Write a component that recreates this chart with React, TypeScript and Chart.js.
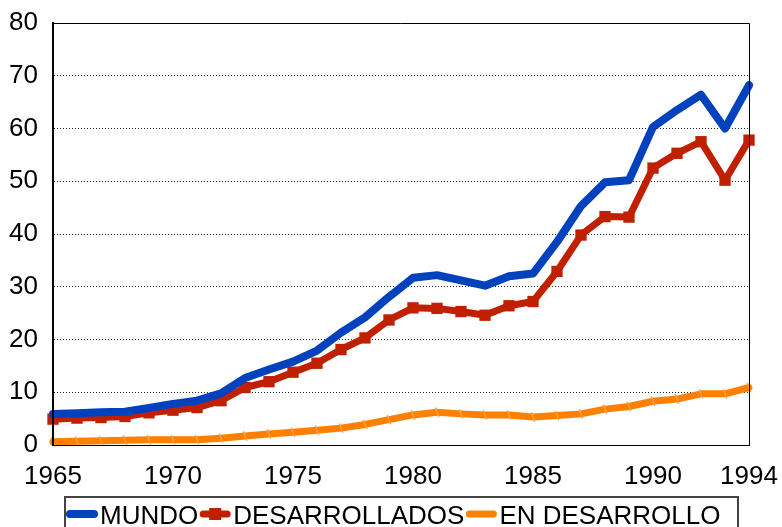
import React, { useEffect, useRef } from "react";
import { Chart, registerables } from "chart.js";

Chart.register(...registerables);

const years = [
  "1965", "1966", "1967", "1968", "1969", "1970", "1971", "1972", "1973", "1974",
  "1975", "1976", "1977", "1978", "1979", "1980", "1981", "1982", "1983", "1984",
  "1985", "1986", "1987", "1988", "1989", "1990", "1991", "1992", "1993", "1994",
];
const shownYears = ["1965", "1970", "1975", "1980", "1985", "1990", "1994"];

const mundo = [
  5.9, 6.0, 6.2, 6.3, 7.0, 7.8, 8.4, 9.8, 12.7, 14.3,
  15.8, 17.9, 21.3, 24.2, 28.1, 31.7, 32.2, 31.2, 30.2, 32.0,
  32.5, 38.5, 45.3, 49.8, 50.2, 60.3, 63.5, 66.4, 60.0, 68.2,
];
const desarrollados = [
  4.9, 5.1, 5.2, 5.4, 6.1, 6.6, 7.1, 8.4, 10.9, 12.0,
  13.8, 15.5, 18.1, 20.3, 23.7, 26.0, 25.9, 25.3, 24.6, 26.4,
  27.2, 32.9, 39.8, 43.3, 43.2, 52.5, 55.3, 57.5, 50.2, 57.8,
];
const enDesarrollo = [
  0.6, 0.7, 0.8, 0.9, 1.0, 1.0, 1.0, 1.3, 1.7, 2.1,
  2.4, 2.8, 3.2, 3.9, 4.8, 5.7, 6.2, 5.9, 5.7, 5.7,
  5.3, 5.6, 5.9, 6.8, 7.3, 8.3, 8.7, 9.7, 9.7, 10.9,
];
const seriesNames = ["MUNDO", "DESARROLLADOS", "EN DESARROLLO"];

const FONT = "'Liberation Sans', Arial, sans-serif";

const frameAndLegend = {
  id: "frameAndLegend",
  afterDatasetsDraw(chart: any) {
    const { ctx, chartArea } = chart;
    ctx.save();
    ctx.strokeStyle = "#000";
    ctx.lineWidth = 1;
    ctx.setLineDash([]);
    ctx.beginPath();
    ctx.moveTo(chartArea.left, chartArea.top + 0.5);
    ctx.lineTo(chartArea.right + 0.5, chartArea.top + 0.5);
    ctx.lineTo(chartArea.right + 0.5, chartArea.bottom + 0.5);
    ctx.lineTo(chartArea.left, chartArea.bottom + 0.5);
    ctx.stroke();
    ctx.lineWidth = 2;
    ctx.beginPath();
    ctx.moveTo(chartArea.left, chartArea.top);
    ctx.lineTo(chartArea.left, chartArea.bottom + 1);
    ctx.stroke();
    ctx.restore();
  },
  afterDraw(chart: any) {
    const { ctx } = chart;
    ctx.save();
    ctx.strokeStyle = "#444";
    ctx.lineWidth = 2;
    ctx.strokeRect(65, 497, 673, 60);
    ctx.font = `26px ${FONT}`;
    ctx.textBaseline = "alphabetic";
    ctx.fillStyle = "#000";
    let x = 67;
    const yLine = 514;
    chart.data.datasets.forEach((ds: any) => {
      ctx.strokeStyle = ds.borderColor;
      ctx.lineWidth = ds.borderWidth;
      ctx.lineCap = "round";
      ctx.beginPath();
      ctx.moveTo(x + 3, yLine);
      ctx.lineTo(x + 27, yLine);
      ctx.stroke();
      if (ds.pointStyle === "rect") {
        ctx.fillStyle = ds.pointBackgroundColor;
        ctx.fillRect(x + 15 - 6, yLine - 6, 12, 12);
      }
      ctx.fillStyle = "#000";
      const tx = x + 33;
      ctx.fillText(ds.label, tx, 524);
      x = tx + ctx.measureText(ds.label).width + 2;
    });
    ctx.restore();
  },
};

export default function App() {
  const ref = useRef<HTMLCanvasElement>(null);
  useEffect(() => {
    document.body.style.margin = "0";
    const canvas = ref.current!;
    const chart = new Chart(canvas, {
      type: "line",
      data: {
        labels: years,
        datasets: [
          {
            label: seriesNames[0],
            data: mundo,
            borderColor: "#0042BE",
            backgroundColor: "#0042BE",
            borderWidth: 8,
            pointRadius: 0,
            pointHoverRadius: 0,
            borderJoinStyle: "round",
            borderCapStyle: "round",
            tension: 0,
            clip: false,
          },
          {
            label: seriesNames[1],
            data: desarrollados,
            borderColor: "#C02000",
            backgroundColor: "#C02000",
            pointBackgroundColor: "#C02000",
            pointBorderColor: "#C02000",
            borderWidth: 7,
            pointStyle: "rect",
            pointRadius: 8,
            pointBorderWidth: 0,
            borderJoinStyle: "round",
            borderCapStyle: "round",
            tension: 0,
            clip: false,
          },
          {
            label: seriesNames[2],
            data: enDesarrollo,
            borderColor: "#FF8000",
            backgroundColor: "#FF8000",
            pointBackgroundColor: "#FFA040",
            pointBorderColor: "#FFA040",
            borderWidth: 7,
            pointStyle: "line",
            pointRotation: 70,
            pointRadius: 5,
            pointBorderWidth: 1.5,
            borderJoinStyle: "round",
            borderCapStyle: "round",
            tension: 0,
            clip: false,
          },
        ],
      } as any,
      options: {
        responsive: false,
        animation: false,
        devicePixelRatio: 1,
        layout: { padding: { top: 23, right: 33, left: 0, bottom: 0 } },
        plugins: {
          legend: { display: false },
          tooltip: { enabled: false },
        },
        scales: {
          x: {
            type: "category",
            offset: false,
            grid: { display: false, drawTicks: false },
            border: { display: true, color: "#000", width: 1 },
            ticks: {
              autoSkip: false,
              maxRotation: 0,
              padding: 16,
              color: "#000",
              font: { family: FONT, size: 26 },
              callback: function (this: any, _v: any, i: number) {
                const lab = years[i];
                return shownYears.includes(lab) ? lab : "";
              },
            },
            afterFit: (s: any) => {
              s.height = 82;
              s.paddingLeft = 0;
              s.paddingRight = 0;
            },
          },
          y: {
            min: 0,
            max: 80,
            grid: {
              color: "#222",
              lineWidth: 1,
              drawTicks: false,
            },
            border: { display: true, color: "#000", width: 2, dash: [1, 2] },
            ticks: {
              stepSize: 10,
              padding: 15,
              color: "#000",
              font: { family: FONT, size: 26 },
            },
            afterFit: (s: any) => {
              s.width = 53;
              s.paddingTop = 0;
              s.paddingBottom = 0;
            },
          },
        },
      },
      plugins: [frameAndLegend],
    });
    return () => chart.destroy();
  }, []);
  return (
    <div>
      <canvas ref={ref} width={782} height={527} style={{ display: "block" }} />
    </div>
  );
}
